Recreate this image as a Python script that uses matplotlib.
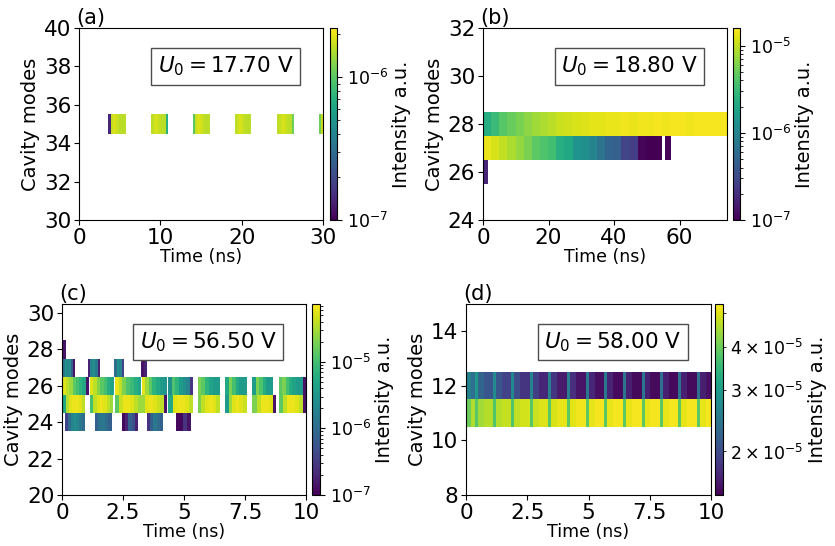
import numpy as np
import matplotlib
matplotlib.use("Agg")
import matplotlib.pyplot as plt
from matplotlib.colors import LogNorm
from matplotlib.cm import ScalarMappable

# ---- panel (a): U0 = 17.70 V, single mode 35, pulses
a_mode = 35
a_segs = [
    (3.6, 5.8, [1.4e-7, 1.65e-6, 1.85e-6, 1.75e-6, 1.65e-6, 1.6e-6, 1.6e-6, 1.6e-6]),
    (8.85, 10.9, [1.6e-6, 1.7e-6, 1.85e-6, 1.7e-6, 1.65e-6, 1.6e-6, 1.6e-6, 7e-7]),
    (14.05, 16.1, [1.0e-6, 1.65e-6, 1.85e-6, 1.8e-6, 1.7e-6, 1.6e-6, 1.6e-6, 1.6e-6]),
    (19.2, 21.2, [1.6e-6, 1.7e-6, 1.85e-6, 1.75e-6, 1.65e-6, 1.6e-6, 1.6e-6, 1.6e-6]),
    (24.4, 26.4, [1.6e-6, 1.7e-6, 1.85e-6, 1.75e-6, 1.65e-6, 1.6e-6, 1.6e-6, 1.1e-6]),
    (29.5, 30.0, [1.1e-6, 1.7e-6]),
]

# ---- panel (b): U0 = 18.80 V
b_m28 = [2.3e-6, 3.1e-6, 4.2e-6, 4.9e-6, 5.7e-6, 6.7e-6, 7.8e-6, 8.6e-6, 9.5e-6, 1.06e-5,
         1.11e-5, 1.17e-5, 1.23e-5, 1.29e-5, 1.29e-5, 1.36e-5, 1.36e-5, 1.43e-5, 1.36e-5, 1.43e-5,
         1.43e-5, 1.5e-5, 1.43e-5, 1.5e-5, 1.5e-5, 1.43e-5, 1.5e-5, 1.5e-5, 1.5e-5, 1.5e-5]
b_m27 = [1.36e-5, 1.17e-5, 1.0e-5, 8.6e-6, 7.05e-6, 5.75e-6, 4.47e-6, 3.84e-6, 3.47e-6, 2.43e-6,
         2.09e-6, 1.39e-6, 1.26e-6, 9.8e-7, 6.9e-7, 5.06e-7, 4.6e-7, 2.75e-7, 2.5e-7, 1.05e-7,
         1.02e-7, 1.02e-7]
b_segs = {
    28: [(0.0, 74.5, b_m28)],
    27: [(0.0, 54.7, b_m27), (55.7, 57.5, [1.05e-7])],
    26: [(0.0, 1.6, [1.7e-7])],
}

# ---- panel (c): U0 = 56.50 V
c_segs = {
    28: [(0.03, 0.15, [1.4e-7])],
    27: [(0.05, 0.53, [1.4e-6, 2.7e-6, 1.95e-6, 2.7e-6, 7.3e-7, 1.4e-7]),
         (1.05, 1.56, [1.9e-7, 1.95e-6, 2.7e-6, 1.4e-6, 1.9e-7]),
         (2.14, 2.55, [1.0e-6, 2.7e-6, 1.95e-6, 3.7e-7]),
         (3.24, 3.47, [1.4e-7, 1.9e-7])],
    26: [(0.03, 0.97, [5.3e-5, 3.8e-5, 2.75e-5, 1.4e-5, 1.02e-5, 7.3e-6, 5.2e-6]),
         (0.97, 1.1, [1.4e-7]),
         (1.15, 2.12, [5.3e-5, 3.8e-5, 2.25e-5, 1.4e-5, 1.02e-5, 6.0e-6, 4.6e-6]),
         (2.17, 3.25, [6.1e-5, 3.8e-5, 2.0e-5, 1.16e-5, 8.9e-6, 6.0e-6, 4.6e-6]),
         (3.27, 4.29, [5.3e-5, 2.75e-5, 1.4e-5, 7.3e-6, 5.2e-6, 3.8e-6, 3.1e-6]),
         (4.36, 5.38, [2.7e-6, 1.16e-5, 7.3e-6, 3.8e-6, 2.7e-6, 1.95e-6, 2.7e-7]),
         (5.56, 6.48, [2.0e-5, 1.4e-5, 7.3e-6, 4.6e-6, 3.8e-6, 3.8e-6]),
         (6.68, 7.57, [5.2e-6, 2.0e-5, 1.02e-5, 5.2e-6, 3.8e-6, 3.8e-6]),
         (7.80, 8.66, [3.8e-6, 2.0e-5, 1.16e-5, 6.0e-6, 3.8e-6, 3.8e-6]),
         (8.89, 10.0, [1.4e-5, 2.0e-5, 1.02e-5, 6.0e-6, 4.6e-6, 3.8e-6, 3.8e-6, 1.4e-7])],
    25: [(0.03, 0.94, [5.2e-6, 3.36e-5, 5.3e-5, 6.1e-5, 6.1e-5, 5.3e-5, 3.8e-5]),
         (1.15, 2.10, [1.02e-5, 3.8e-5, 5.3e-5, 6.1e-5, 5.3e-5, 3.8e-5, 2.75e-5]),
         (2.17, 3.27, [1.4e-5, 4.36e-5, 6.1e-5, 6.1e-5, 5.3e-5, 3.8e-5, 2.75e-5]),
         (3.27, 4.18, [2.75e-5, 5.3e-5, 6.1e-5, 5.3e-5, 4.36e-5, 3.8e-5]),
         (4.18, 4.29, [1.4e-7]),
         (4.36, 5.38, [5.2e-6, 5.3e-5, 6.1e-5, 6.1e-5, 5.3e-5, 3.8e-5]),
         (5.56, 6.48, [2.0e-5, 3.8e-5, 5.3e-5, 6.1e-5, 5.3e-5, 3.8e-5]),
         (6.68, 7.57, [3.8e-6, 2.75e-5, 5.3e-5, 6.1e-5, 5.3e-5, 4.36e-5]),
         (7.80, 8.66, [2.0e-5, 3.8e-5, 6.1e-5, 6.1e-5, 5.3e-5]),
         (8.66, 8.77, [1.4e-7]),
         (8.89, 9.86, [1.4e-5, 3.8e-5, 6.1e-5, 6.1e-5, 5.3e-5, 3.8e-5]),
         (9.86, 9.98, [1.4e-7])],
    24: [(0.12, 0.94, [3.7e-7, 1.0e-6, 1.95e-6, 2.7e-6, 1.95e-6, 1.4e-6, 1.0e-6]),
         (1.35, 2.04, [7.3e-7, 1.23e-6, 1.4e-6, 1.0e-6, 7.3e-7]),
         (2.45, 3.13, [1.14e-7, 1.9e-7, 7.3e-7, 5.2e-7, 1.9e-7]),
         (3.47, 4.15, [2.7e-7, 7.3e-7, 1.4e-6, 1.0e-6, 7.3e-7]),
         (4.67, 5.27, [1.14e-7, 1.14e-7, 2.7e-7, 1.39e-7])],
}

# ---- panel (d): U0 = 58.00 V, modes 11 and 12, periodic stripes
d_stripe_t = [0.37, 1.12, 1.85, 2.61, 3.36, 4.14, 4.90, 5.65, 6.42, 7.17, 7.92, 8.67, 9.43]
d_m12_pre = [2.6e-5, 2.35e-5]
d_m12_stripe = [2.9e-5, 2.75e-5, 2.7e-5, 2.65e-5, 2.6e-5, 2.55e-5, 2.5e-5, 2.5e-5,
                2.45e-5, 2.45e-5, 2.4e-5, 2.4e-5, 2.35e-5]
d_m12_near = [2.25e-5, 2.1e-5, 2.0e-5, 1.9e-5, 1.82e-5, 1.78e-5, 1.72e-5, 1.7e-5,
              1.68e-5, 1.68e-5, 1.68e-5, 1.68e-5, 1.68e-5]
d_m12_far = [2.1e-5, 1.92e-5, 1.82e-5, 1.72e-5, 1.64e-5, 1.6e-5, 1.57e-5, 1.56e-5,
             1.55e-5, 1.55e-5, 1.55e-5, 1.55e-5, 1.58e-5]
d_m11_pre = [4.0e-5, 4.55e-5]
d_m11_stripe = [3.8e-5, 3.75e-5, 3.75e-5, 3.8e-5, 3.8e-5, 3.85e-5, 3.85e-5, 3.85e-5,
                3.85e-5, 3.85e-5, 3.85e-5, 3.85e-5, 3.85e-5]
d_m11_near = [4.45e-5, 4.6e-5, 4.7e-5, 4.8e-5, 4.9e-5, 5.0e-5, 5.05e-5, 5.05e-5,
              5.05e-5, 5.05e-5, 5.05e-5, 5.05e-5, 5.05e-5]
d_m11_far = [4.6e-5, 4.75e-5, 4.85e-5, 4.95e-5, 5.05e-5, 5.15e-5, 5.2e-5, 5.2e-5,
             5.2e-5, 5.2e-5, 5.2e-5, 5.2e-5, 5.2e-5]

panel_labels = ["(a)", "(b)", "(c)", "(d)"]
voltages = ["17.70", "18.80", "56.50", "58.00"]
xlims = [(0, 30), (0, 74.5), (0, 10), (0, 10)]
ylims = [(30, 40), (24, 32), (20, 30.5), (8, 15)]
xticks = [[0, 10, 20, 30], [0, 20, 40, 60], [0, 2.5, 5, 7.5, 10], [0, 2.5, 5, 7.5, 10]]
yticks = [[30, 32, 34, 36, 38, 40], [24, 26, 28, 30, 32], [20, 22, 24, 26, 28, 30], [8, 10, 12, 14]]
clims = [(1e-7, 2.2e-6), (1e-7, 1.6e-5), (1e-7, 7.4e-5), (1.5e-5, 5.3e-5)]

cmap = plt.get_cmap("viridis")

W, H = 835, 546
def px_box(l, t, r, b):
    return [l / W, 1 - b / H, (r - l) / W, (b - t) / H]

ax_boxes = [(79, 28, 323, 220), (483, 28, 727, 220), (62, 304, 306, 495), (466, 304, 711, 495)]
cb_boxes = [(330, 28, 337, 220), (733, 28, 740, 220), (312, 304, 320, 495), (715, 304, 723, 495)]

fig = plt.figure(figsize=(W / 100, H / 100), dpi=100)


def draw_seg(ax, mode, t0, t1, vals, norm):
    edges = np.linspace(t0, t1, len(vals) + 1)
    ax.pcolormesh(edges, [mode - 0.5, mode + 0.5], np.array([vals]),
                  cmap=cmap, norm=norm, shading="flat")


def draw_periodic(ax, mode, pre, stripe, near, far, norm, tend=10.0):
    t = d_stripe_t
    draw_seg(ax, mode, 0.0, t[0], pre, norm)
    for k in range(len(t)):
        nxt = t[k + 1] if k + 1 < len(t) else tend
        edges = [t[k], t[k] + 0.12, t[k] + 0.36, nxt]
        ax.pcolormesh(edges, [mode - 0.5, mode + 0.5], np.array([[stripe[k], near[k], far[k]]]),
                      cmap=cmap, norm=norm, shading="flat")


for i in range(4):
    ax = fig.add_axes(px_box(*ax_boxes[i]))
    cax = fig.add_axes(px_box(*cb_boxes[i]))
    norm = LogNorm(vmin=clims[i][0], vmax=clims[i][1])

    if i == 0:
        for t0, t1, v in a_segs:
            draw_seg(ax, a_mode, t0, t1, v, norm)
    elif i == 1:
        for m, segs in b_segs.items():
            for t0, t1, v in segs:
                draw_seg(ax, m, t0, t1, v, norm)
    elif i == 2:
        for m, segs in c_segs.items():
            for t0, t1, v in segs:
                draw_seg(ax, m, t0, t1, v, norm)
    else:
        draw_periodic(ax, 12, d_m12_pre, d_m12_stripe, d_m12_near, d_m12_far, norm)
        draw_periodic(ax, 11, d_m11_pre, d_m11_stripe, d_m11_near, d_m11_far, norm)

    ax.set_xlim(*xlims[i])
    ax.set_ylim(*ylims[i])
    ax.set_xticks(xticks[i])
    ax.set_xticklabels([("%g" % v) for v in xticks[i]])
    ax.set_yticks(yticks[i])
    ax.tick_params(labelsize=15.5, pad=2)
    ax.set_xlabel("Time (ns)", fontsize=12.5, labelpad=0)
    ax.set_ylabel("Cavity modes", fontsize=14, labelpad=3)
    ax.text(-0.01, 1.0, panel_labels[i], transform=ax.transAxes,
            ha="left", va="bottom", fontsize=15)
    ax.text(0.6, 0.8, r"$U_0 = %s$ V" % voltages[i], transform=ax.transAxes,
            ha="center", va="center", fontsize=15.5,
            bbox=dict(boxstyle="square,pad=0.3", facecolor="white", edgecolor="0.3"))

    cb = fig.colorbar(ScalarMappable(norm=norm, cmap=cmap), cax=cax)
    cb.set_label("Intensity a.u.", fontsize=14, labelpad=3)
    cax.tick_params(labelsize=12.5, which="both")

fig.savefig("out.png", dpi=100)
